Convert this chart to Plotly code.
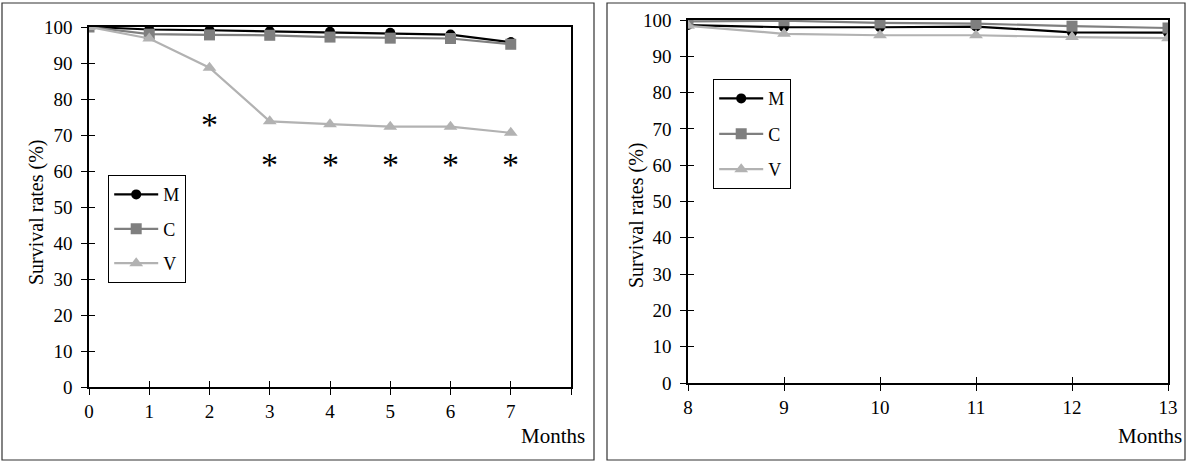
import plotly.graph_objects as go

# ---- data ----
months_a = [0, 1, 2, 3, 4, 5, 6, 7]
m_a = [100, 99.3, 99.1, 98.8, 98.7, 98.4, 97.9, 95.8]
c_a = [100, 98.0, 97.8, 97.7, 97.2, 96.9, 96.8, 95.2]
v_a = [100, 96.8, 88.7, 73.8, 73.0, 72.3, 72.3, 70.6]

months_b = [8, 9, 10, 11, 12, 13]
m_b = [98.6, 98.0, 98.0, 98.2, 96.6, 96.5]
c_b = [99.6, 99.8, 99.2, 99.0, 98.3, 97.8]
v_b = [98.4, 96.2, 95.8, 95.8, 95.3, 95.0]

sig_months = [2, 3, 4, 5, 6, 7]
sig_levels = [74, 63, 63, 63, 63, 63]

ticks_a = [0, 1, 2, 3, 4, 5, 6, 7, 8]
ticktext_a = ["0", "1", "2", "3", "4", "5", "6", "7", ""]
ticks_b = [8, 9, 10, 11, 12, 13]
yticks = [0, 10, 20, 30, 40, 50, 60, 70, 80, 90, 100]

FONT = "Liberation Serif"
W, H = 1188, 463

series = [
    ("M", "black", "circle", 10),
    ("C", "#7f7f7f", "square", 11),
    ("V", "#b2b2b2", "triangle-up", 12),
]

fig = go.Figure()
for (name, col, sym, sz), ya in zip(series, [m_a, c_a, v_a]):
    fig.add_trace(go.Scatter(x=months_a, y=ya, name=name, mode="lines+markers",
                             line=dict(color=col, width=2.2),
                             marker=dict(symbol=sym, size=sz, color=col),
                             xaxis="x", yaxis="y", legend="legend",
                             legendgroup=name + "a"))
for (name, col, sym, sz), yb in zip(series, [m_b, c_b, v_b]):
    fig.add_trace(go.Scatter(x=months_b, y=yb, name=name, mode="lines+markers",
                             line=dict(color=col, width=2.2),
                             marker=dict(symbol=sym, size=sz, color=col),
                             xaxis="x2", yaxis="y2", legend="legend2",
                             legendgroup=name + "b"))

def px(x):
    return x / W

def py(y):
    return 1 - y / H

dom_xa = [px(89), px(571)]
dom_ya = [py(387), py(27)]
dom_xb = [px(688), px(1168)]
dom_yb = [py(383), py(20)]

tickfont = dict(family=FONT, size=19, color="black")

def xaxis(dom, anchor, rng, tv, tt, ticks, labels=True, overlay=None):
    d = dict(domain=dom, anchor=anchor, range=rng, tickvals=tv, ticktext=tt,
             ticks=ticks, ticklen=6, tickwidth=1.2, tickcolor="black",
             showgrid=False, zeroline=False, tickfont=tickfont,
             showticklabels=labels, fixedrange=True, automargin=False)
    if overlay:
        d.update(overlaying=overlay, showline=False)
    else:
        d.update(showline=True, linecolor="black", linewidth=1.5, mirror=True)
    return d

def yaxis(dom, anchor, ticks, labels=True, overlay=None):
    d = dict(domain=dom, anchor=anchor, range=[0, 100], tickvals=yticks,
             ticks=ticks, ticklen=6, tickwidth=1.2, tickcolor="black",
             showgrid=False, zeroline=False, tickfont=tickfont,
             showticklabels=labels, ticklabelstandoff=5, fixedrange=True,
             automargin=False)
    if overlay:
        d.update(overlaying=overlay, showline=False)
    else:
        d.update(showline=True, linecolor="black", linewidth=1.5, mirror=True)
    return d

fig.update_layout(
    width=W, height=H,
    margin=dict(l=0, r=0, t=0, b=0, autoexpand=False),
    paper_bgcolor="white", plot_bgcolor="white",
    font=dict(family=FONT, color="black"),
    xaxis=xaxis(dom_xa, "y", [0, 8], ticks_a, ticktext_a, "outside"),
    yaxis=yaxis(dom_ya, "x", "outside"),
    xaxis2=xaxis(dom_xb, "y2", [8, 13], ticks_b, [str(t) for t in ticks_b], "outside"),
    yaxis2=yaxis(dom_yb, "x2", "outside"),
    xaxis3=xaxis(dom_xa, "y", [0, 8], ticks_a, ticktext_a, "inside", labels=False, overlay="x"),
    yaxis3=yaxis(dom_ya, "x", "inside", labels=False, overlay="y"),
    xaxis4=xaxis(dom_xb, "y2", [8, 13], ticks_b, None, "inside", labels=False, overlay="x2"),
    yaxis4=yaxis(dom_yb, "x2", "inside", labels=False, overlay="y2"),
    legend=dict(x=px(108), y=py(175), xanchor="left", yanchor="top",
                bordercolor="black", borderwidth=1.2, bgcolor="white",
                font=dict(family=FONT, size=18, color="black"),
                tracegroupgap=8, itemwidth=44),
    legend2=dict(x=px(713), y=py(79), xanchor="left", yanchor="top",
                 bordercolor="black", borderwidth=1.2, bgcolor="white",
                 font=dict(family=FONT, size=18, color="black"),
                 tracegroupgap=9, itemwidth=44),
    showlegend=True,
)

# invisible traces so overlay axes are drawn
fig.add_trace(go.Scatter(x=[None], y=[None], xaxis="x3", yaxis="y3", showlegend=False, hoverinfo="skip"))
fig.add_trace(go.Scatter(x=[None], y=[None], xaxis="x4", yaxis="y4", showlegend=False, hoverinfo="skip"))

# significance asterisks
for mx, lv in zip(sig_months, sig_levels):
    fig.add_annotation(x=mx, y=lv, xref="x", yref="y", text="*", showarrow=False,
                       font=dict(family=FONT, size=34, color="black"),
                       xanchor="center", yanchor="middle", yshift=-4)

# axis titles
for xc, yc in [(36, 212), (637, 215)]:
    fig.add_annotation(x=px(xc), y=py(yc), xref="paper", yref="paper",
                       text="Survival rates (%)", textangle=-90, showarrow=False,
                       xanchor="center", yanchor="middle",
                       font=dict(family=FONT, size=20, color="black"))
for xc in [553, 1150]:
    fig.add_annotation(x=px(xc), y=py(436), xref="paper", yref="paper",
                       text="Months", showarrow=False,
                       xanchor="center", yanchor="middle",
                       font=dict(family=FONT, size=21, color="black"))

# outer panel borders
for x0, x1 in [(2, 594), (607, 1185)]:
    fig.add_shape(type="rect", xref="paper", yref="paper",
                  x0=px(x0), x1=px(x1), y0=py(460), y1=py(3),
                  line=dict(color="#333333", width=1.2))

fig.write_html("out.html", config={"displayModeBar": False},
               post_script="document.body.style.margin='0';document.body.style.overflow='hidden';")
